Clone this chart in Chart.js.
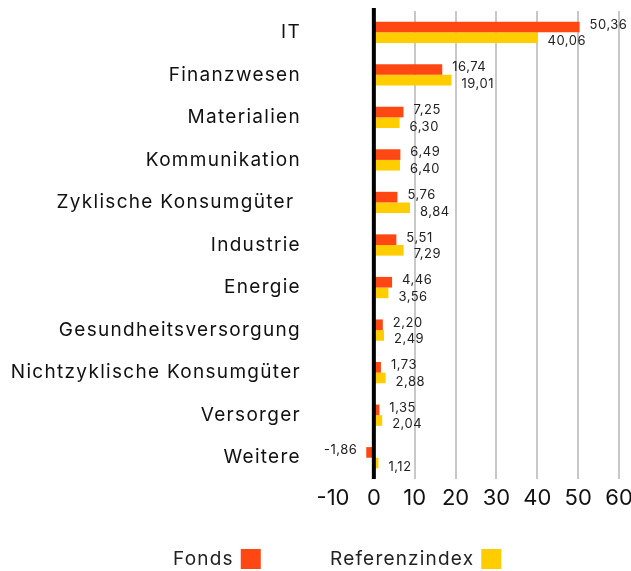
<!DOCTYPE html>
<html lang="de">
<head>
<meta charset="UTF-8">
<title>Sektoren</title>
<script src="https://cdn.jsdelivr.net/npm/chart.js"></script>
<style>
  html, body { margin: 0; padding: 0; background: #fff; }
  #wrap { width: 631px; height: 571px; }
</style>
</head>
<body>
<div id="wrap"><canvas id="myChart"></canvas></div>
<script>
// sector data (weights in %)
const categories = ['IT', 'Finanzwesen', 'Materialien', 'Kommunikation', 'Zyklische Konsumgüter ',
  'Industrie', 'Energie', 'Gesundheitsversorgung', 'Nichtzyklische Konsumgüter', 'Versorger', 'Weitere'];
const fondsValues = [50.36, 16.74, 7.25, 6.49, 5.76, 5.51, 4.46, 2.20, 1.73, 1.35, -1.86];
const referenzValues = [40.06, 19.01, 6.30, 6.40, 8.84, 7.29, 3.56, 2.49, 2.88, 2.04, 1.12];
const seriesNames = ['Fonds', 'Referenzindex'];
const xTicks = [-10, 0, 10, 20, 30, 40, 50, 60];

const FONT = 'Inter, "Noto Sans", sans-serif';
const colors = ['#FF4713', '#FFCD00'];

const fmt = v => v.toFixed(2).replace('.', ',');

// category names, drawn by hand so they can get a little letter spacing
const categoryLabels = {
    id: 'categoryLabels',
    afterDraw(chart) {
        const ctx = chart.ctx;
        const y = chart.scales.y;
        ctx.save();
        ctx.font = '19px ' + FONT;
        ctx.letterSpacing = '1.3px';
        ctx.fillStyle = '#111';
        ctx.textAlign = 'right';
        ctx.textBaseline = 'middle';
        categories.forEach((c, i) => {
            ctx.fillText(c, y.right - 32, y.getPixelForTick(i));
        });
        ctx.restore();
    }
};

// value labels next to each bar
const valueLabels = {
    id: 'valueLabels',
    afterDatasetsDraw(chart) {
        const ctx = chart.ctx;
        ctx.save();
        ctx.font = '13px ' + FONT;
        ctx.letterSpacing = '0.5px';
        ctx.fillStyle = '#222';
        ctx.textBaseline = 'middle';
        chart.data.datasets.forEach((ds, i) => {
            chart.getDatasetMeta(i).data.forEach((bar, j) => {
                const v = ds.data[j];
                const dy = i === 0 ? -2 : 4;
                if (v >= 0) {
                    ctx.textAlign = 'left';
                    ctx.fillText(fmt(v), bar.x + 10, bar.y + dy);
                } else {
                    ctx.textAlign = 'right';
                    ctx.fillText(fmt(v), bar.x - 9, bar.y + dy);
                }
            });
        });
        // zero line on top of the bars
        const x0 = chart.scales.x.getPixelForValue(0);
        ctx.fillStyle = '#000';
        ctx.fillRect(x0 - 2, chart.chartArea.top - 3, 4, chart.chartArea.bottom - chart.chartArea.top + 3);
        ctx.restore();
    }
};

// legend with the colour box after the label
const sideLegend = {
    id: 'sideLegend',
    afterDraw(chart) {
        const ctx = chart.ctx;
        const starts = [173, 330];
        const y = chart.height - 12;
        ctx.save();
        ctx.font = '19px ' + FONT;
        ctx.letterSpacing = '1.2px';
        ctx.textBaseline = 'middle';
        ctx.textAlign = 'left';
        seriesNames.forEach((name, i) => {
            ctx.fillStyle = '#222';
            ctx.fillText(name, starts[i], y);
            const w = ctx.measureText(name).width;
            ctx.fillStyle = colors[i];
            ctx.fillRect(starts[i] + w + 7, y - 10, 20, 20);
        });
        ctx.restore();
    }
};

const ctx = document.getElementById('myChart').getContext('2d');
new Chart(ctx, {
    type: 'bar',
    data: {
        labels: categories,
        datasets: [
            { label: seriesNames[0], data: fondsValues, backgroundColor: colors[0] },
            { label: seriesNames[1], data: referenzValues, backgroundColor: colors[1] }
        ]
    },
    options: {
        indexAxis: 'y',
        responsive: true,
        maintainAspectRatio: false,
        animation: false,
        datasets: { bar: { categoryPercentage: 0.5, barPercentage: 1.0 } },
        layout: { padding: { top: 11, right: 12, left: 0, bottom: 0 } },
        plugins: { legend: { display: false }, tooltip: { enabled: false } },
        scales: {
            x: {
                min: -10,
                max: 60,
                afterBuildTicks: s => { s.ticks = xTicks.map(v => ({ value: v })); },
                afterFit: s => { s.height = 92; s.paddingLeft = 0; s.paddingRight = 0; },
                border: { display: false },
                grid: {
                    drawTicks: false,
                    lineWidth: 2,
                    color: c => (c.tick && c.tick.value > 0) ? '#c8c8c8' : 'rgba(0,0,0,0)'
                },
                ticks: {
                    padding: 6,
                    color: '#111',
                    font: { family: FONT, size: 22 },
                    callback: v => String(v)
                }
            },
            y: {
                afterFit: s => { s.width = 333; s.paddingTop = 0; s.paddingBottom = 0; },
                border: { display: false },
                grid: { display: false, drawTicks: false },
                ticks: { display: false }
            }
        }
    },
    plugins: [valueLabels, categoryLabels, sideLegend]
});
</script>
</body>
</html>
